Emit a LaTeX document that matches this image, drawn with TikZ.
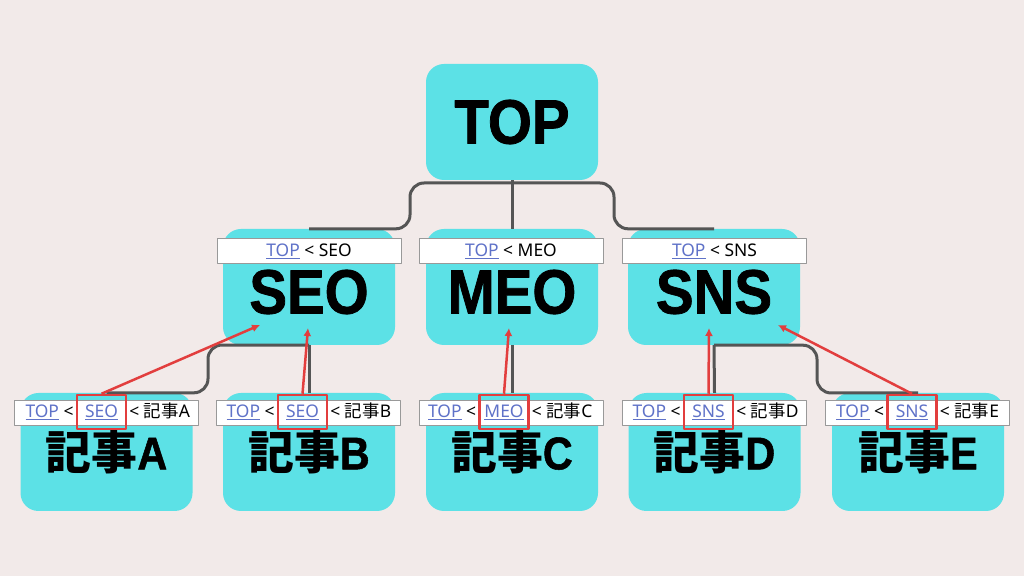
\documentclass[tikz,border=0pt]{standalone}
\usepackage{fontspec}
\setmainfont{Noto Sans}
\newfontfamily\jp{Noto Sans CJK JP}
\newfontfamily\heavy{Liberation Sans}[FakeStretch=0.9,BoldFeatures={FakeBold=1.2}]
\usetikzlibrary{positioning,arrows.meta}
\definecolor{bgpink}{HTML}{F2EAE9}
\definecolor{cyanbox}{HTML}{5CE1E6}
\definecolor{wire}{HTML}{555555}
\definecolor{hot}{HTML}{E23E3E}
\definecolor{linkblue}{HTML}{5F72C8}
\newcommand{\lnk}[1]{\textcolor{linkblue}{\underline{#1}}}

\begin{document}
\begin{tikzpicture}[>={Latex[length=8bp,width=8bp]},line join=round,
  tile/.style={fill=cyanbox,rounded corners=18bp,minimum width=172bp,minimum height=116bp,
    font=\fontsize{63}{70}\selectfont\heavy\bfseries},
  leaf/.style={tile,minimum height=118bp,font=\fontsize{46}{52}\selectfont\bfseries},
  bigtext/.style={inner sep=0pt,font=\fontsize{63}{70}\selectfont\heavy\bfseries},
  crumb/.style={fill=white,draw=gray!80,line width=0.8bp,minimum width=184bp,minimum height=25bp,
    inner sep=0pt,font=\fontsize{17.5}{20}\selectfont},
  crumbtext/.style={inner sep=0pt,font=\fontsize{17.5}{20}\selectfont},
  markbox/.style={draw=hot,line width=2.5bp,minimum width=49bp,minimum height=34bp,inner sep=0pt,
    font=\fontsize{17.5}{20}\selectfont},
  wireline/.style={draw=wire,line width=3bp,rounded corners=14bp},
  hotline/.style={draw=hot,line width=2.5bp},
]
%%
\fill [bgpink] (0bp,0bp) rectangle (1024bp,576bp);
\useasboundingbox (0bp,0bp) rectangle (1024bp,576bp);
%
\node (top) at (512bp,454bp) [tile] {TOP};
  \node (seo) at (309bp,289bp) [tile] {};
  \node (meo) at (512bp,289bp) [tile] {};
  \node (sns) at (714bp,289bp) [tile] {};
  \node (arta) at (106.5bp,124bp) [leaf] {{\jp 記事}{\heavy A}};
  \node (artb) at (309bp,124bp) [leaf] {{\jp 記事}{\heavy B}};
  \node (artc) at (512bp,124bp) [leaf] {{\jp 記事}{\heavy C}};
  \node (artd) at (714.5bp,124bp) [leaf] {{\jp 記事}{\heavy D}};
  \node (arte) at (918bp,124bp) [leaf] {{\jp 記事}{\heavy E}};
%
  \coordinate (barl) at (410bp,393bp);
  \coordinate (barr) at (614bp,393bp);
  \coordinate (kinka) at (208bp,231bp);
  \coordinate (kinke) at (817bp,183bp);
  \draw [wireline] (seo.north) -| (barl) -- (barr) |- (sns.north);
  \draw [wireline] (top.south) -- (meo.north);
  \draw [wireline] (arta.north) -| (kinka) -- (seo.south);
  \draw [wireline] (seo.south) -- (artb.north);
  \draw [wireline] (meo.south) -- (artc.north);
  \draw [wireline] (sns.south) -- (artd.north);
  \draw [wireline] (sns.south) -| (kinke) -- (arte.north);
%
  \node (crseo) at (309bp,325bp) [crumb] {\lnk{TOP} < SEO};
  \node (crmeo) at (511bp,325bp) [crumb] {\lnk{TOP} < MEO};
  \node (crsns) at (714.5bp,325bp) [crumb] {\lnk{TOP} < SNS};
  \node (seot) at (309bp,284bp) [bigtext] {SEO};
  \node (meot) at (512bp,284bp) [bigtext] {MEO};
  \node (snst) at (714bp,284bp) [bigtext] {SNS};
%
  \node (cra) at (106bp,163bp) [crumb] {};
  \node (crb) at (308.5bp,163bp) [crumb] {};
  \node (crc) at (511.5bp,163bp) [crumb] {};
  \node (crd) at (714bp,163bp) [crumb] {};
  \node (cre) at (917.5bp,163bp) [crumb] {};
  \node (mka) at (101.5bp,164bp) [markbox] {\lnk{SEO}};
  \node (mkb) at (302.5bp,164bp) [markbox] {\lnk{SEO}};
  \node (mkc) at (504bp,164bp) [markbox] {\lnk{MEO}};
  \node (mkd) at (708.5bp,164bp) [markbox] {\lnk{SNS}};
  \node (mke) at (912bp,164bp) [markbox] {\lnk{SNS}};
  \node (pra) [base left=2bp of mka,crumbtext] {\lnk{TOP} <};
  \node (prb) [base left=2bp of mkb,crumbtext] {\lnk{TOP} <};
  \node (prc) [base left=2bp of mkc,crumbtext] {\lnk{TOP} <};
  \node (prd) [base left=2bp of mkd,crumbtext] {\lnk{TOP} <};
  \node (pre) [base left=2bp of mke,crumbtext] {\lnk{TOP} <};
  \node (sua) [base right=2bp of mka,crumbtext] {< {\jp 記事}A};
  \node (sub) [base right=2bp of mkb,crumbtext] {< {\jp 記事}B};
  \node (suc) [base right=2bp of mkc,crumbtext] {< {\jp 記事}C};
  \node (sud) [base right=2bp of mkd,crumbtext] {< {\jp 記事}D};
  \node (sue) [base right=2bp of mke,crumbtext] {< {\jp 記事}E};
%
  \coordinate (hita) at (260bp,251bp);
  \coordinate (hitb) at (308bp,248bp);
  \coordinate (hitc) at (509bp,248bp);
  \coordinate (hitd) at (709bp,248bp);
  \coordinate (hite) at (778bp,251bp);
  \draw [->,hotline] (mka.north) -- (hita);
  \draw [->,hotline] (mkb.north) -- (hitb);
  \draw [->,hotline] (mkc.north) -- (hitc);
  \draw [->,hotline] (mkd.north) -- (hitd);
  \draw [->,hotline] (mke.north) -- (hite);
%
\end{tikzpicture}
\end{document}
